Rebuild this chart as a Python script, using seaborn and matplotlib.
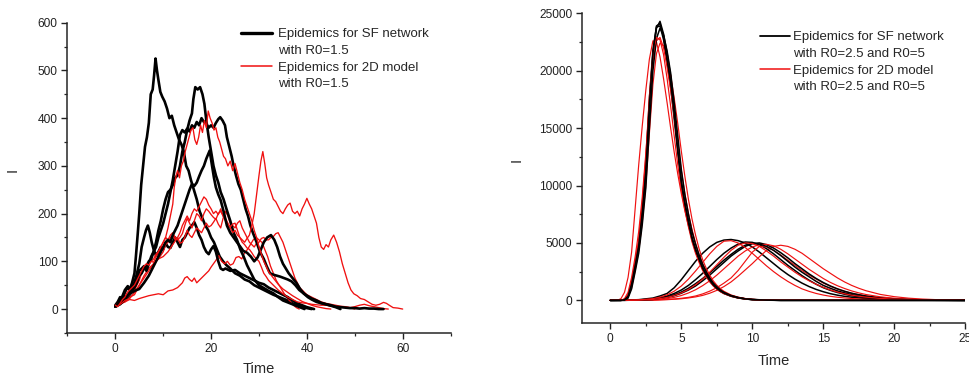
import matplotlib
matplotlib.use("Agg")
import matplotlib.pyplot as plt
from matplotlib.lines import Line2D
from matplotlib.ticker import MultipleLocator
import seaborn as sns

# ---------------- Left panel data (R0 = 1.5), (time, I) pairs ----------------
SF_15_A = [(0,8),(0.5,15),(1,25),(1.5,20),(2,35),(2.5,45),(3,40),(3.5,55),(4,75),(4.3,110),
           (4.7,160),(5,200),(5.4,260),(5.8,300),(6.2,340),(6.6,360),(7,390),(7.4,450),(7.8,460),(8.1,490),
           (8.4,525),(8.7,500),(9.0,480),(9.4,455),(9.8,445),(10.3,435),(10.8,420),(11.3,400),(11.8,405),(12.3,385),
           (12.8,370),(13.3,355),(13.8,345),(14.3,330),(14.8,300),(15.3,290),(15.8,270),(16.4,250),(17,230),(17.6,205),
           (18.2,190),(18.8,175),(19.4,165),(20,150),(20.6,140),(21.2,125),(21.8,110),(22.5,100),(23.2,92),(24,85),
           (25,75),(26,70),(27,62),(28,58),(29,50),(30,45),(31,40),(32,35),(33,30),(34,26),(35,22),(36,18),
           (37,12),(38,8),(39,5),(40,2),(41,0)]
SF_15_B = [(0,5),(0.7,12),(1.4,25),(2,40),(2.6,48),(3.2,42),(3.8,50),(4.4,70),(5,95),(5.5,130),(6,150),
           (6.4,165),(6.8,175),(7.2,160),(7.6,140),(8,125),(8.5,112),(9,120),(9.5,130),(10,125),(10.5,138),
           (11,130),(11.5,128),(12,140),(12.5,150),(13,140),(13.5,130),(14,145),(14.5,150),(15,160),(15.5,170),
           (16,175),(16.5,182),(17,170),(17.5,155),(18,145),(18.5,130),(19,120),(19.5,115),(20,125),(20.5,132),
           (21,120),(21.5,100),(22,85),(22.5,82),(23,85),(24,80),(25,82),(26,75),(27,70),(28,65),(29,60),
           (30,55),(31,52),(32,45),(33,40),(34,35),(35,30),(36,25),(37,18),(38,12),(39,8),(40,4),(41.5,0)]
SF_15_C = [(0,5),(1,12),(2,20),(3,30),(4,45),(4.5,60),(5,80),(5.5,85),(6,90),(6.5,80),(7,95),(7.5,110),
           (8,120),(8.5,140),(9,165),(9.5,185),(10,210),(10.5,230),(11,245),(11.5,250),(12,260),(12.5,275),
           (13,280),(13.5,300),(14,330),(14.5,350),(15,375),(15.5,395),(16,410),(16.3,440),(16.7,465),(17.2,460),
           (17.7,465),(18.2,450),(18.6,430),(19,395),(19.5,360),(20,330),(20.5,300),(21,280),(21.5,265),(22,245),
           (22.6,230),(23.2,210),(24,185),(24.7,160),(25.4,145),(26.1,125),(26.8,110),(27.5,92),(28.2,78),
           (29,62),(30,50),(31,44),(32,38),(33,33),(34,25),(35,18),(36,14),(37,10),(38,6),(39,2),(39.5,0)]
SF_15_D = [(0,5),(1,10),(2,20),(3,35),(4,45),(4.5,55),(5,70),(5.5,75),(6,85),(6.5,90),(7,100),(7.5,105),
           (8,120),(8.5,130),(9,150),(9.5,165),(10,180),(10.5,200),(11,220),(11.5,245),(12,270),(12.5,300),
           (13,330),(13.5,365),(14,375),(14.5,370),(15,378),(15.5,372),(16,385),(16.5,380),(17,392),(17.5,385),
           (18,400),(18.5,392),(19,388),(19.5,380),(20,385),(20.5,380),(21,390),(21.5,398),(21.9,402),(22.4,395),
           (22.9,385),(23.3,360),(23.8,340),(24.3,320),(24.7,300),(25.2,280),(25.7,262),(26.2,250),(26.7,230),
           (27.2,210),(27.7,195),(28.2,175),(28.8,158),(29.5,140),(30.2,120),(31,105),(31.6,90),(32.3,75),
           (33,72),(33.7,70),(34.4,68),(35.2,65),(36,62),(36.8,58),(37.6,50),(38.4,40),(39.3,33),(40.2,27),
           (41,22),(42,18),(43,13),(44,10),(45,7),(46,4),(47,0)]
SF_15_E = [(0,6),(1,15),(2,25),(3,32),(4,38),(5,42),(6,55),(7,70),(8,90),(9,110),(9.5,120),(10,130),
           (10.5,140),(11,145),(11.5,140),(12,155),(12.5,165),(13,175),(13.5,190),(14,205),(14.5,220),(15,235),
           (15.5,250),(16,262),(16.5,258),(17,265),(17.5,278),(18,290),(18.5,300),(19,315),(19.7,332),(20.2,300),
           (20.6,275),(21,255),(21.5,240),(22,228),(22.6,205),(23.3,175),(24,160),(24.7,150),(25.4,140),(26,132),
           (26.7,122),(27.5,118),(28.3,110),(29,100),(29.7,108),(30.4,125),(31,140),(31.7,150),(32.5,155),
           (33.2,145),(33.8,130),(34.4,110),(35,95),(35.6,85),(36.2,75),(37,65),(37.8,55),(38.6,42),(39.4,32),
           (40.2,25),(41,20),(42,15),(43,12),(44,10),(45,8),(46,5),(47,4),(48,3),(49,2),(50,2),(51,1),(52,2),
           (53,1),(54,1),(55,0),(56,0)]

D2_15_A = [(0,8),(0.5,5),(1,12),(1.5,20),(2,25),(2.5,35),(3,40),(3.5,45),(4,50),(4.5,60),(5,70),(5.5,80),
           (6,90),(6.5,95),(7,92),(7.5,100),(8,98),(8.5,110),(9,120),(9.5,130),(10,140),(10.5,150),(11,170),
           (11.5,195),(12,220),(12.3,255),(12.7,280),(13,290),(13.4,275),(13.8,300),(14.2,310),(14.6,330),
           (15,345),(15.4,360),(15.8,375),(16.2,380),(16.6,355),(17,345),(17.4,360),(17.8,385),(18.2,370),
           (18.6,395),(19,380),(19.4,415),(19.8,400),(20.2,390),(20.6,375),(21,380),(21.4,360),(21.8,350),
           (22.2,335),(22.6,320),(23,315),(23.5,300),(24,310),(24.5,290),(25,305),(25.5,285),(26,265),
           (26.5,250),(27,230),(27.5,215),(28,200),(28.5,185),(29,165),(29.5,150),(30,130),(30.5,115),(31,100),
           (31.5,90),(32,78),(33,65),(34,52),(35,42),(36,35),(37,28),(38,22),(39,16),(40,12),(41,8),(42,5),
           (43,3),(44,1),(45,0)]
D2_15_B = [(0,5),(1,10),(2,18),(3,22),(4,35),(5,50),(6,65),(7,80),(8,95),(9,105),(10,110),(11,120),
           (12,135),(13,150),(13.5,160),(14,175),(14.5,185),(15,195),(15.5,185),(16,200),(16.5,210),(17,205),
           (17.5,215),(18,225),(18.5,235),(19,230),(19.5,218),(20,210),(20.5,200),(21,205),(21.5,198),(22,210),
           (22.5,195),(23,185),(23.5,175),(24,170),(24.5,160),(25,165),(25.5,155),(26,150),(26.5,145),(27,140),
           (27.5,148),(28,155),(28.5,175),(29,200),(29.5,240),(30,280),(30.4,310),(30.8,330),(31.2,305),
           (31.6,275),(32,260),(32.5,245),(33,230),(33.5,225),(34,215),(34.5,205),(35,200),(35.5,210),(36,218),
           (36.5,222),(37,205),(37.5,200),(38,205),(38.5,195),(39,210),(39.5,220),(40,232),(40.5,220),(41,210),
           (41.5,195),(42,180),(42.5,150),(43,130),(43.5,125),(44,135),(44.5,130),(45,145),(45.6,155),
           (46.2,140),(46.8,120),(47.4,95),(48,75),(48.6,55),(49.2,40),(49.8,32),(50.5,28),(51.2,22),(52,20),
           (52.8,15),(53.6,10),(54.4,8),(55.2,10),(56,14),(56.6,12),(57.2,8),(58,3),(59,2),(60,0)]
D2_15_C = [(0,5),(1,10),(2,15),(3,25),(4,30),(5,50),(6,70),(7,85),(8,95),(9,105),(10,120),(10.5,135),
           (11,140),(11.5,150),(12,155),(12.5,145),(13,150),(13.5,138),(14,140),(14.5,150),(15,165),(15.5,155),
           (16,150),(16.5,160),(17,170),(17.5,165),(18,160),(18.5,170),(19,180),(19.5,172),(20,175),(20.5,182),
           (21,190),(21.5,178),(22,170),(22.5,190),(23,205),(23.5,195),(24,180),(24.5,175),(25,170),(25.5,180),
           (26,185),(26.5,170),(27,160),(27.5,150),(28,140),(28.5,135),(29,130),(29.5,138),(30,140),(30.5,148),
           (31,150),(31.5,145),(32,145),(32.5,150),(33,152),(33.5,158),(34,160),(34.5,150),(35,140),(35.5,125),
           (36,110),(36.5,95),(37,80),(37.5,65),(38,55),(38.5,45),(39,40),(40,30),(41,25),(42,20),(43,15),
           (44,12),(45,10),(46,8),(47,6),(48,5),(49,3),(50,0)]
D2_15_D = [(0,8),(1,12),(2,15),(3,20),(4,18),(5,22),(6,25),(7,28),(8,30),(9,32),(10,30),(11,38),(12,40),
           (13,45),(13.5,50),(14,55),(14.5,65),(15,68),(15.5,62),(16,58),(16.5,65),(17,55),(17.5,60),(18,65),
           (18.5,70),(19,75),(19.5,80),(20,88),(20.5,95),(21,102),(21.6,112),(22.2,100),(22.8,95),(23.4,100),
           (24,92),(24.6,95),(25.2,108),(25.8,110),(26.4,105),(27,118),(27.6,125),(28.2,135),(28.8,145),
           (29.4,150),(30,145),(30.6,140),(31.2,125),(31.8,110),(32.4,90),(33,75),(33.6,60),(34.2,50),
           (34.8,40),(35.4,30),(36,22),(36.6,15),(37.2,8),(37.8,3),(38.4,0)]
D2_15_E = [(0,8),(1,15),(2,22),(3,30),(4,40),(5,60),(5.5,75),(6,85),(6.5,90),(7,95),(7.5,100),(8,105),
           (8.5,115),(9,120),(9.5,130),(10,140),(10.5,150),(11,145),(11.5,155),(12,160),(12.5,150),(13,145),
           (13.5,150),(14,158),(14.5,175),(15,190),(15.5,180),(16,170),(16.5,185),(17,200),(17.5,195),(18,185),
           (18.5,200),(19,210),(19.5,205),(20,198),(20.5,192),(21,188),(21.5,200),(22,205),(22.5,195),(23,190),
           (23.5,180),(24,172),(24.5,178),(25,180),(25.5,165),(26,150),(26.5,140),(27,135),(27.5,128),(28,125),
           (28.5,118),(29,110),(29.5,105),(30,100),(30.5,88),(31,75),(31.5,68),(32,60),(33,50),(34,40),(35,32),
           (36,25),(37,20),(38,15),(39,13),(40,12),(41,10),(42,9),(43,8),(44,8),(45,6),(46,5),(47,4),(48,4),
           (49,3),(50,5),(51,8),(52,10),(53,7),(54,5),(55,3),(56,1),(57,0)]

# ---------------- Right panel data (R0 = 5 large peaks, R0 = 2.5 small peaks) ----------------
T_BIG = [0, 0.5, 0.75, 1.0, 1.25, 1.5, 1.75, 2.0, 2.25, 2.5, 2.75, 3.0, 3.25, 3.5, 3.75, 4.0, 4.25, 4.5,
         4.75, 5.0, 5.25, 5.5, 5.75, 6.0, 6.25, 6.5, 6.75, 7.0, 7.25, 7.5, 7.75, 8.0, 8.5, 9.0, 9.5, 10.0,
         11.0, 12.0, 25.0]
SF_5_A = [0, 0, 0, 50, 300, 1300, 2900, 4500, 7300, 10800, 16500, 21200, 23700, 24300, 23200, 21500, 19500,
          16500, 13500, 10400, 8500, 7000, 5500, 4500, 3700, 2900, 2300, 1800, 1400, 1100, 850, 650, 400, 230,
          130, 70, 20, 0, 0]
SF_5_B = [0, 0, 0, 80, 400, 1500, 3200, 5000, 8000, 11800, 17500, 21800, 23800, 23900, 22700, 20800, 18600,
          15800, 12900, 10100, 8200, 6700, 5300, 4300, 3500, 2750, 2150, 1700, 1300, 1000, 780, 600, 360, 210,
          120, 60, 15, 0, 0]
SF_5_C = [0, 0, 0, 30, 200, 1000, 2500, 4100, 6600, 9800, 15000, 20000, 22800, 23700, 23100, 21700, 19800,
          17200, 14300, 11400, 9200, 7500, 6000, 4900, 3950, 3150, 2500, 1950, 1500, 1180, 900, 700, 420, 250,
          140, 80, 25, 0, 0]
SF_5_D = [0, 0, 0, 60, 350, 1400, 3000, 4700, 7600, 11200, 17000, 21500, 23900, 24100, 23000, 21000, 19000,
          16200, 13200, 10300, 8400, 6800, 5400, 4400, 3600, 2800, 2200, 1750, 1350, 1050, 820, 630, 380, 220,
          125, 65, 18, 0, 0]
D2_5_A = [0, 0, 150, 700, 2000, 4200, 8000, 11800, 15200, 18300, 21000, 22600, 22500, 21200, 19300, 17200,
          15000, 12900, 11000, 9300, 7800, 6500, 5400, 4400, 3600, 2900, 2300, 1850, 1450, 1150, 900, 700, 420,
          250, 140, 80, 25, 0, 0]
D2_5_B = [0, 0, 0, 150, 700, 2000, 3800, 6000, 9000, 12800, 17000, 20800, 22600, 22900, 22000, 20300, 18300,
          16000, 13600, 11300, 9300, 7600, 6200, 5000, 4000, 3200, 2550, 2000, 1550, 1200, 930, 720, 430, 250,
          140, 80, 25, 0, 0]
D2_5_C = [0, 0, 0, 50, 300, 1100, 2600, 4300, 6800, 10000, 14500, 18800, 21500, 22400, 22200, 21200, 19600,
          17600, 15400, 13000, 10800, 8800, 7100, 5700, 4500, 3550, 2800, 2200, 1700, 1320, 1020, 790, 470, 280,
          160, 90, 30, 0, 0]
D2_5_D = [0, 0, 0, 100, 500, 1700, 3400, 5300, 8500, 12500, 17800, 21500, 22900, 22700, 21400, 19300, 16900,
          14300, 11800, 9600, 7900, 6400, 5100, 4100, 3300, 2600, 2050, 1600, 1250, 970, 750, 580, 350, 200,
          115, 60, 15, 0, 0]

T_SMALL = [0, 1, 2, 3, 3.5, 4, 4.5, 5, 5.5, 6, 6.5, 7, 7.5, 8, 8.5, 9, 9.5, 10, 10.5, 11, 11.5, 12, 12.5,
           13, 13.5, 14, 14.5, 15, 15.5, 16, 16.5, 17, 17.5, 18, 19, 20, 21, 22, 23, 25]
SF_25_A = [0, 10, 60, 200, 380, 600, 1100, 1800, 2600, 3400, 4100, 4650, 5050, 5250, 5300, 5200, 5000, 4650,
           4200, 3700, 3200, 2700, 2250, 1850, 1500, 1200, 950, 750, 580, 450, 350, 270, 210, 160, 90, 50, 25,
           10, 5, 0]
SF_25_B = [0, 5, 30, 120, 220, 380, 600, 900, 1300, 1800, 2350, 2950, 3550, 4100, 4550, 4900, 5080, 5050,
           4850, 4500, 4050, 3550, 3050, 2600, 2150, 1750, 1400, 1100, 870, 680, 530, 400, 310, 230, 130, 70,
           35, 15, 8, 0]
SF_25_C = [0, 5, 20, 80, 160, 250, 400, 620, 900, 1250, 1700, 2200, 2750, 3300, 3850, 4300, 4700, 4950, 5000,
           4850, 4550, 4150, 3700, 3200, 2750, 2300, 1900, 1550, 1250, 1000, 790, 620, 490, 380, 220, 130, 70,
           35, 15, 0]
SF_25_D = [0, 5, 20, 90, 180, 300, 480, 720, 1050, 1450, 1900, 2400, 2950, 3500, 4000, 4450, 4800, 4950, 4900,
           4700, 4350, 3900, 3400, 2900, 2450, 2050, 1650, 1300, 1050, 820, 650, 500, 390, 300, 170, 100, 50,
           25, 12, 0]
D2_25_A = [0, 8, 40, 150, 280, 480, 800, 1250, 1850, 2550, 3300, 4050, 4700, 5150, 5200, 5000, 4600, 4100,
           3550, 3000, 2500, 2050, 1650, 1300, 1000, 780, 600, 460, 350, 270, 210, 160, 120, 90, 50, 25, 12, 5,
           2, 0]
D2_25_B = [0, 4, 20, 80, 150, 250, 420, 650, 950, 1350, 1850, 2450, 3100, 3750, 4350, 4800, 5000, 4950, 4700,
           4300, 3850, 3350, 2900, 2450, 2050, 1700, 1400, 1130, 900, 720, 570, 450, 360, 280, 170, 100, 55, 30,
           15, 0]
D2_25_C = [0, 2, 10, 30, 50, 80, 120, 180, 260, 380, 560, 800, 1100, 1500, 1950, 2600, 3400, 4200, 4700, 4650,
           4350, 3950, 3500, 3050, 2600, 2200, 1850, 1500, 1220, 980, 780, 620, 490, 380, 230, 140, 80, 45, 20, 0]
D2_25_D = [0, 2, 8, 20, 40, 60, 95, 140, 210, 300, 430, 620, 870, 1200, 1600, 2100, 2650, 3200, 3800, 4350,
           4700, 4800, 4700, 4450, 4100, 3650, 3200, 2750, 2350, 1950, 1600, 1300, 1050, 840, 520, 320, 190, 110,
           60, 0]
D2_25_E = [0, 3, 12, 40, 80, 150, 260, 420, 640, 920, 1280, 1700, 2200, 2750, 3300, 3850, 4300, 4650, 4850,
           4880, 4750, 4450, 4050, 3600, 3150, 2700, 2300, 1900, 1560, 1270, 1030, 820, 650, 510, 310, 180, 100,
           55, 30, 0]

LEGEND_LEFT = ["Epidemics for SF network", "with R0=1.5", "Epidemics for 2D model", "with R0=1.5"]
LEGEND_RIGHT = ["Epidemics for SF network", "with R0=2.5 and R0=5", "Epidemics for 2D model",
                "with R0=2.5 and R0=5"]

BLACK = "#000000"
RED = "#f01010"

sns.set_theme(style="ticks")
plt.rcParams["font.family"] = ["Liberation Sans", "DejaVu Sans"]
plt.rcParams["axes.linewidth"] = 1.1

fig = plt.figure(figsize=(9.7, 3.81), dpi=100)
axL = fig.add_axes([0.0695, 0.1262, 0.3950, 0.8142])
axR = fig.add_axes([0.5999, 0.1514, 0.3953, 0.8137])


def draw(ax, pts, color, lw):
    xs = [p[0] for p in pts]
    ys = [p[1] for p in pts]
    sns.lineplot(x=xs, y=ys, ax=ax, color=color, lw=lw, estimator=None, sort=False)


left_order = [(SF_15_A, BLACK), (D2_15_D, RED), (SF_15_B, BLACK), (D2_15_C, RED), (SF_15_C, BLACK),
              (D2_15_E, RED), (SF_15_D, BLACK), (D2_15_B, RED), (SF_15_E, BLACK), (D2_15_A, RED)]
for pts, c in left_order:
    draw(axL, pts, c, 1.9 if c == BLACK else 0.95)

right_order = [(T_SMALL, SF_25_A, BLACK), (T_SMALL, D2_25_D, RED), (T_SMALL, SF_25_B, BLACK),
               (T_SMALL, D2_25_C, RED), (T_SMALL, SF_25_C, BLACK), (T_SMALL, D2_25_E, RED),
               (T_SMALL, SF_25_D, BLACK), (T_SMALL, D2_25_B, RED), (T_SMALL, D2_25_A, RED),
               (T_BIG, D2_5_A, RED), (T_BIG, SF_5_A, BLACK), (T_BIG, D2_5_C, RED), (T_BIG, SF_5_B, BLACK),
               (T_BIG, D2_5_B, RED), (T_BIG, SF_5_C, BLACK), (T_BIG, D2_5_D, RED), (T_BIG, SF_5_D, BLACK)]
for ts, vs, c in right_order:
    sns.lineplot(x=ts, y=vs, ax=axR, color=c, lw=1.1 if c == BLACK else 0.85, estimator=None, sort=False)

for ax in (axL, axR):
    sns.despine(ax=ax)
    ax.tick_params(which="major", direction="out", length=4.0, width=1.0, pad=3,
                   labelsize=8.6, colors="#222222")
    ax.tick_params(which="minor", direction="out", length=2.2, width=0.9)
    ax.set_xlabel("Time", fontsize=10.5)
    ax.set_ylabel("I", fontsize=10.5)

axL.set_xlim(-10, 70)
axL.set_ylim(-50, 600)
axL.xaxis.set_major_locator(MultipleLocator(20))
axL.xaxis.set_minor_locator(MultipleLocator(10))
axL.yaxis.set_major_locator(MultipleLocator(100))
axL.yaxis.set_minor_locator(MultipleLocator(50))
axL.xaxis.set_label_coords(0.5, -0.095)
axL.yaxis.set_label_coords(-0.124, 0.525)

axR.set_xlim(-2, 25)
axR.set_ylim(-2000, 25000)
axR.xaxis.set_major_locator(MultipleLocator(5))
axR.xaxis.set_minor_locator(MultipleLocator(2.5))
axR.yaxis.set_major_locator(MultipleLocator(5000))
axR.yaxis.set_minor_locator(MultipleLocator(2500))
axR.xaxis.set_label_coords(0.5, -0.098)
axR.yaxis.set_label_coords(-0.152, 0.527)

for ax, labels, lwb, loc, htp in ((axL, LEGEND_LEFT, 2.4, (0.43, 1.012), 0.5),
                                  (axR, LEGEND_RIGHT, 1.3, (0.44, 0.972), 0.25)):
    handles = [Line2D([], [], color=BLACK, lw=lwb), Line2D([], [], color="none"),
               Line2D([], [], color=RED, lw=1.1), Line2D([], [], color="none")]
    ax.legend(handles, labels, loc="upper left", bbox_to_anchor=loc, frameon=False, fontsize=9.5,
              handlelength=2.3, handletextpad=htp, labelspacing=0.33, borderpad=0.2)

fig.savefig("out.png", dpi=100, facecolor="white")
